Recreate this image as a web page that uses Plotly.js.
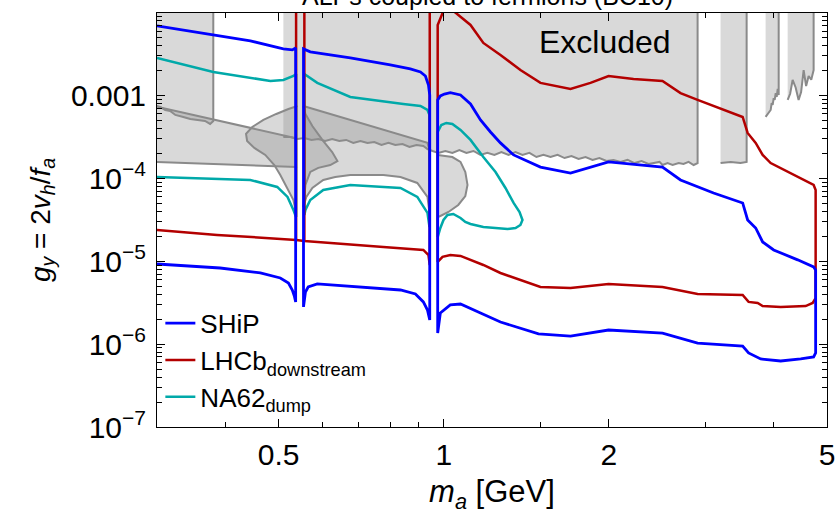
<!DOCTYPE html>
<html><head><meta charset="utf-8">
<script src="https://cdn.plot.ly/plotly-3.0.1.min.js"></script>
<style>body{margin:0;background:#fff}#c{width:838px;height:515px}</style>
</head><body><div id="c"></div>
<script>
// ---------- data (m_a in GeV, g_y) ----------
// SHiP: three closed pieces separated by the eta and eta' notches
const shipX = [0.300,0.360,0.444,0.510,0.5295,0.537,0.537,0.534,0.5295,0.521,0.5035,0.463,0.391,0.300, null,
  0.555,0.555,0.571,0.6755,0.799,0.869,0.907,0.926,0.938,0.943,0.943,0.934,0.918,0.888,0.834,0.6755,0.588,0.566,0.5595,0.555, null,
  0.975,0.975,0.986,1.003,1.028,1.073,1.119,1.167,1.217,1.269,1.341,1.501,1.703,1.998,2.506,2.703,3.105,3.509,3.583,3.706,3.816,3.997,4.420,4.727,4.767,
  4.767,4.727,4.477,4.116,3.785,3.597,3.509,2.904,2.506,1.998,1.703,1.489,1.269,1.167,1.073,1.028,0.986,0.975];
const shipY = [6.91e-3,5.69e-3,4.56e-3,3.65e-3,3.55e-3,3.75e-3,3.23e-6,3.81e-6,4.50e-6,5.47e-6,6.28e-6,7.22e-6,8.29e-6,9.27e-6, null,
  2.81e-6,3.65e-3,3.36e-3,2.84e-3,2.34e-3,2.09e-3,1.92e-3,1.72e-3,1.34e-3,1.015e-3,1.96e-6,2.58e-6,3.23e-6,4.03e-6,4.50e-6,5.03e-6,5.32e-6,4.89e-6,4.26e-6,2.81e-6, null,
  1.36e-6,8.84e-4,9.88e-4,1.04e-3,1.08e-3,1.015e-3,7.91e-4,5.07e-4,3.63e-4,2.68e-4,1.92e-4,1.37e-4,1.16e-4,1.58e-4,1.37e-4,9.57e-5,6.67e-5,5.05e-5,3.15e-5,2.52e-5,1.71e-5,1.37e-5,1.04e-5,8.53e-6,7.85e-6,
  7.82e-7,7.00e-7,6.62e-7,6.26e-7,6.62e-7,7.82e-7,9.49e-7,1.03e-6,1.36e-6,1.48e-6,1.25e-6,1.33e-6,1.85e-6,2.38e-6,3.05e-6,2.97e-6,2.38e-6,1.36e-6];

// LHCb downstream
const lhcbX = [0.300,0.386,0.538,0.557,0.776,0.918,0.938,0.943,0.943, null,
  0.999,0.975,0.975,0.995,1.028,1.073,1.181,1.269,1.501,1.703,1.998,2.506,2.904,3.509,3.597,3.737,3.816,4.116,4.571,4.708,4.767,
  4.767,4.727,4.420,3.947,3.816,3.706,3.583,3.509,2.904,2.703,2.506,2.219,1.998,1.852,1.703,1.501,1.380,1.269,1.181,1.119,1.041, null,
  0.538,0.538, null, 0.557,0.557];
const lhcbY = [2.38e-5,2.08e-5,1.81e-5,1.76e-5,1.49e-5,1.37e-5,1.19e-5,9.02e-6,0.02, null,
  0.0105,7.11e-3,9.80e-6,1.13e-5,1.19e-5,1.16e-5,9.02e-6,7.22e-6,4.89e-6,4.76e-6,5.32e-6,4.89e-6,4.03e-6,3.92e-6,3.23e-6,3.14e-6,2.88e-6,2.81e-6,2.88e-6,3.14e-6,3.60e-6,
  7.25e-5,8.33e-5,1.04e-4,1.53e-4,1.92e-4,2.68e-4,3.53e-4,5.51e-4,8.84e-4,1.07e-3,1.50e-3,1.58e-3,1.72e-3,1.42e-3,1.20e-3,1.42e-3,2.03e-3,3.09e-3,4.31e-3,7.11e-3,0.0105, null,
  0.02,1.81e-5, null, 0.02,1.76e-5];

// NA62 dump
const na62X = [0.300,0.380,0.483,0.510,0.532,0.538,0.538,0.532,0.519,0.497,0.444,0.360,0.300, null,
  0.557,0.5595,0.571,0.603,0.6755,0.834,0.895,0.934,0.942,0.942,0.934,0.907,0.844,0.6755,0.588,0.5595,0.557,0.557, null,
  0.975,0.975,0.990,1.011,1.037,1.073,1.119,1.181,1.243,1.296,1.341,1.375,1.392,1.380,1.352,1.307,1.243,1.181,1.119,1.095,1.073,1.041,1.016,0.999,0.986,0.975];
const na62Y = [2.84e-3,1.92e-3,1.50e-3,1.54e-3,1.72e-3,1.82e-3,3.42e-5,4.16e-5,5.97e-5,7.88e-5,9.57e-5,1.01e-4,1.04e-4, null,
  3.62e-5,4.16e-5,5.49e-5,7.25e-5,8.33e-5,7.66e-5,5.97e-5,3.83e-5,2.59e-5,5.83e-4,6.69e-4,7.48e-4,7.91e-4,9.61e-4,1.42e-3,1.77e-3,1.82e-3,3.62e-5, null,
  1.96e-5,3.63e-4,4.41e-4,4.67e-4,4.54e-4,3.84e-4,2.91e-4,1.81e-4,1.195e-4,7.66e-5,5.05e-5,3.93e-5,3.15e-5,2.74e-5,2.52e-5,2.45e-5,2.52e-5,2.59e-5,2.82e-5,2.98e-5,3.33e-5,3.72e-5,3.62e-5,3.15e-5,2.52e-5,1.96e-5];

// Excluded regions (existing bounds)
const exclLeftX = [0.28,0.380,0.380,0.375,0.367,0.357,0.345,0.335,0.324,0.317,0.3105,0.304,0.300,0.28];
const exclLeftY = [0.02,0.02,4.93e-4,4.54e-4,4.93e-4,5.07e-4,5.21e-4,5.51e-4,5.83e-4,6.51e-4,6.69e-4,7.27e-4,7.48e-4,7.6e-4];
const exclMainX = [0.510,2.904,2.904,2.856,2.796,2.737,2.682,2.615,2.560,2.506,2.475,2.363,2.295,2.228,2.164,2.101,2.040,1.981,1.923,1.868,1.814,1.762,1.710,1.661,1.613,1.566,1.520,1.476,1.433,1.392,1.352,1.313,1.274,1.237,1.201,1.167,1.133,1.100,1.068,1.037,1.007,0.978,0.954,0.934,
  0.918,0.892,0.866,0.841,0.816,0.793,0.770,0.747,0.726,0.705,0.684,0.664,0.645,0.626,0.608,0.5905,0.574,0.557,0.541,0.525,0.510];
const exclMainY = [0.02,0.02,1.53e-4,1.45e-4,1.58e-4,1.49e-4,1.53e-4,1.45e-4,1.53e-4,1.45e-4,1.58e-4,1.49e-4,1.62e-4,1.53e-4,1.67e-4,1.58e-4,1.67e-4,1.62e-4,1.76e-4,1.67e-4,1.81e-4,1.715e-4,1.86e-4,1.76e-4,1.92e-4,1.81e-4,1.92e-4,1.81e-4,2.03e-4,1.92e-4,2.08e-4,1.92e-4,2.08e-4,1.92e-4,2.03e-4,1.92e-4,2.14e-4,2.03e-4,2.20e-4,2.03e-4,2.14e-4,2.03e-4,2.14e-4,2.26e-4,
  2.46e-4,2.53e-4,2.39e-4,2.60e-4,2.53e-4,2.68e-4,2.53e-4,2.75e-4,2.68e-4,2.83e-4,2.68e-4,2.91e-4,2.83e-4,2.99e-4,2.83e-4,2.99e-4,2.91e-4,3.07e-4,2.99e-4,3.16e-4,3.16e-4];
const exclB1X = [3.198,3.568,3.568,3.478,3.337,3.198];
const exclB1Y = [0.02,0.02,1.58e-4,1.53e-4,1.58e-4,1.53e-4];
const exclB2X = [3.864,4.082,4.082,4.065,4.048,4.031,4.014,3.997,3.980,3.963,3.947,3.913,3.880,3.864];
const exclB2Y = [0.02,0.02,1.015e-3,1.20e-3,9.61e-4,1.07e-3,8.84e-4,9.30e-4,7.69e-4,8.10e-4,6.69e-4,6.10e-4,5.67e-4,5.51e-4];
const exclB3X = [4.239,4.727,4.727,4.680,4.629,4.580,4.533,4.485,4.438,4.383,4.328,4.283,4.239];
const exclB3Y = [0.02,0.02,2.03e-3,1.55e-3,1.72e-3,1.30e-3,2.03e-3,1.10e-3,8.84e-4,1.25e-3,1.54e-3,1.05e-3,8.84e-4];
// band-shaped bound with eta / eta' notches
const bandAX = [0.28,0.536,0.538,0.28];
const bandAY = [8.13e-4,3.07e-4,1.37e-4,1.60e-4];
const bandBX = [0.5546,0.934,0.942,0.942,0.934,0.895,0.834,0.776,0.6755,0.634,0.603,0.576,0.5616,0.5546];
const bandBY = [7.48e-4,2.68e-4,2.20e-4,3.83e-5,5.97e-5,8.81e-5,1.04e-4,1.10e-4,1.10e-4,1.04e-4,9.57e-5,7.66e-5,5.97e-5,4.52e-5];
const bandCX = [0.975,1.007,1.037,1.073,1.095,1.105,1.095,1.063,1.020,0.986,0.975];
const bandCY = [1.92e-4,1.86e-4,1.81e-4,1.58e-4,1.195e-4,8.33e-5,6.13e-5,4.78e-5,3.93e-5,3.52e-5,3.42e-5];
// eta-resonance lobe
const lobeLX = [0.541,0.521,0.495,0.469,0.4475,0.436,0.438,0.4515,0.4727,0.491,0.5035,0.519,0.532,0.538];
const lobeLY = [7.48e-4,6.88e-4,5.99e-4,5.07e-4,4.17e-4,3.44e-4,2.83e-4,2.33e-4,1.92e-4,1.45e-4,1.10e-4,7.66e-5,5.49e-5,3.83e-5];
const lobeRX = [0.5546,0.5595,0.576,0.6007,0.626,0.640,0.621,0.5905,0.571,0.5595,0.5546];
const lobeRY = [7.48e-4,5.99e-4,4.29e-4,2.91e-4,2.08e-4,1.62e-4,1.45e-4,1.34e-4,1.195e-4,8.33e-5,4.52e-5];

const xTickVals = [0.5,1,2,5];
const xTickText = ['0.5','1','2','5'];
const yTickVals = [1e-7,1e-6,1e-5,1e-4,1e-3];
const yTickText = ['10<sup>−7</sup>','10<sup>−6</sup>','10<sup>−5</sup>','10<sup>−4</sup>','0.001'];

// ---------- traces ----------
const grayFill = 'rgba(144,144,144,0.34)';
const grayLine = '#8a8a8a';
function region(x, y) {
  return {x: x, y: y, type: 'scatter', mode: 'lines', fill: 'toself', fillcolor: grayFill,
          line: {color: grayLine, width: 2}, showlegend: false, hoverinfo: 'skip'};
}
const traces = [
  region(exclLeftX, exclLeftY), region(exclMainX, exclMainY),
  region(exclB1X, exclB1Y), region(exclB2X, exclB2Y), region(exclB3X, exclB3Y),
  region(bandAX, bandAY), region(bandBX, bandBY), region(bandCX, bandCY),
  region(lobeLX, lobeLY), region(lobeRX, lobeRY),
  {x: na62X, y: na62Y, type: 'scatter', mode: 'lines', name: 'NA62<sub>dump</sub>', line: {color: '#00a9a9', width: 2.5}},
  {x: lhcbX, y: lhcbY, type: 'scatter', mode: 'lines', name: 'LHCb<sub>downstream</sub>', line: {color: '#b30000', width: 2.5}},
  {x: shipX, y: shipY, type: 'scatter', mode: 'lines', name: 'SHiP', line: {color: '#0000ff', width: 2.8}}
];

const yMinor = [];
for (let e = -7; e <= -3; e++) for (let d = 2; d <= 9; d++) yMinor.push(d * Math.pow(10, e));

const font = 'Liberation Sans, Arial, sans-serif';
const layout = {
  width: 838, height: 515,
  margin: {l: 157, r: 11, t: 13, b: 88},
  paper_bgcolor: '#fff', plot_bgcolor: '#fff',
  font: {family: font, color: '#000'},
  xaxis: {type: 'log', range: [Math.log10(0.3), Math.log10(5)], tickmode: 'array', tickvals: xTickVals, ticktext: xTickText,
          ticks: 'inside', ticklen: 8, tickwidth: 1, tickcolor: '#000', showline: true, linecolor: '#000', linewidth: 1, mirror: 'allticks',
          showgrid: false, zeroline: false, tickfont: {size: 30}, ticklabelstandoff: 1,
          minor: {tickmode: 'array', tickvals: [0.3,0.4,0.6,0.7,0.8,0.9,1.5,3,4], ticks: 'inside', ticklen: 5, tickcolor: '#000', showgrid: false},
          title: {text: '<i>m</i><sub><i>a</i></sub> [GeV]', font: {size: 31}, standoff: 10}},
  yaxis: {type: 'log', range: [-7, Math.log10(0.0099)], tickmode: 'array', tickvals: yTickVals, ticktext: yTickText,
          ticks: 'inside', ticklen: 8, tickwidth: 1, tickcolor: '#000', showline: true, linecolor: '#000', linewidth: 1, mirror: 'allticks',
          showgrid: false, zeroline: false, tickfont: {size: 30}, ticklabelstandoff: 4,
          minor: {tickmode: 'array', tickvals: yMinor, ticks: 'inside', ticklen: 5, tickcolor: '#000', showgrid: false},
          title: {text: '<i>g</i><sub><i>y</i></sub> = 2<i>v</i><sub><i>h</i></sub>/<i>f</i><sub><i>a</i></sub>', font: {size: 28}, standoff: 12}},
  legend: {x: 0.005, y: 0.015, xanchor: 'left', yanchor: 'bottom', bgcolor: 'rgba(0,0,0,0)', font: {size: 26},
           traceorder: 'reversed', itemwidth: 30, tracegroupgap: 0},
  annotations: [
    {text: 'ALPs coupled to fermions (BC10)', xref: 'paper', yref: 'paper', x: 0.493, y: 1.040, showarrow: false,
     font: {size: 25, family: font, color: '#000'}, xanchor: 'center', yanchor: 'middle'},
    {text: 'Excluded', xref: 'paper', yref: 'paper', x: 0.669, y: 0.930, showarrow: false,
     font: {size: 32, family: font, color: '#000'}, xanchor: 'center', yanchor: 'middle'}]
};
Plotly.newPlot('c', traces, layout, {displayModeBar: false, staticPlot: true});
</script>
</body></html>
